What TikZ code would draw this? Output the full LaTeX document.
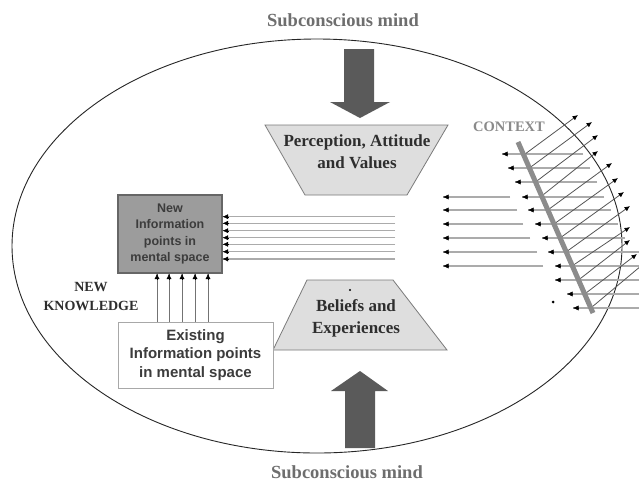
\documentclass[tikz,border=0pt]{standalone}
\usepackage{fontspec}
\setmainfont{Liberation Serif}
\newfontfamily\boxfont{Liberation Sans}
\usetikzlibrary{arrows.meta,calc}
\definecolor{arrowgray}{HTML}{5A5A5A}
\definecolor{trapfill}{HTML}{DEDEDE}
\definecolor{trapdraw}{HTML}{7A7A7A}
\definecolor{newfill}{HTML}{9C9C9C}
\definecolor{newdraw}{HTML}{666666}
\definecolor{exdraw}{HTML}{A8A8A8}
\definecolor{linegray}{HTML}{ABABAB}
\definecolor{diaggray}{HTML}{555555}
\definecolor{bargray}{HTML}{8C8C8C}
\definecolor{subtext}{HTML}{6E6E6E}
\definecolor{ctxtext}{HTML}{8A8A8A}
\definecolor{darktext}{HTML}{2E2E2E}
\definecolor{boxtext}{HTML}{3C3C3C}
\begin{document}
\begin{tikzpicture}[x=1pt,y=-1pt,
  tipblk/.style={-{Latex[length=5.5pt,width=5pt]},black},
  hline/.style={draw=linegray,line width=1.3pt},
  dline/.style={draw=diaggray,line width=0.8pt,-{Latex[length=5.5pt,width=5pt,black]}},
  blockarrow/.style={fill=arrowgray},
  trap/.style={draw=trapdraw,fill=trapfill,line width=0.8pt},
  serifbold/.style={font=\fontsize{17}{22}\selectfont\bfseries,text=darktext,align=center,inner sep=0pt},
  sublabel/.style={font=\fontsize{18.5}{22}\selectfont\bfseries,text=subtext,inner sep=0pt},
  newbox/.style={draw=newdraw,fill=newfill,line width=1.2pt,minimum width=104pt,minimum height=78pt,inner sep=0pt,align=center,
    font=\boxfont\fontsize{12.5}{16.3}\selectfont\bfseries,text=boxtext},
  exbox/.style={draw=exdraw,fill=white,line width=1pt,minimum width=155pt,minimum height=66pt,inner sep=0pt,align=center,
    font=\boxfont\fontsize{15}{18.3}\selectfont\bfseries,text=boxtext}
]
\useasboundingbox (0,0) rectangle (639,483);
\clip (0,0) rectangle (639,483);
\fill[white] (0,0) rectangle (639,483);

% outer ellipse
\draw[line width=0.9pt,black!85] (317,246) ellipse [x radius=305pt, y radius=207pt];

% labels
\node[sublabel] (subtop) at (343,20) {Subconscious mind};
\node[sublabel] (subbot) at (347,472) {Subconscious mind};

% block arrows
\fill[blockarrow] (344,49) -- (374,49) -- (374,102) -- (390,102) -- (360,118) -- (330,102) -- (344,102) -- cycle;
\fill[blockarrow] (345,448) -- (375,448) -- (375,391) -- (388,391) -- (360,371) -- (331,391) -- (345,391) -- cycle;

% trapezoids
\draw[trap] (265,125) -- (448,125) -- (407,195) -- (305,195) -- cycle;
\node[serifbold] (perc) at (357,152) {Perception, Attitude\\and Values};
\draw[trap] (307,280) -- (393,280) -- (447,350) -- (273,350) -- cycle;
\node[serifbold] (beliefs) at (356,318) {Beliefs and\\Experiences};
\fill[black] (350,290) circle (1.1pt);

% boxes
\node[exbox] (exist) at (195.5,355) {Existing\\Information points\\in mental space};
\node[newbox] (new) at (170,234) {New\\Information\\points in\\mental space};

% vertical arrows: existing -> new
\foreach \xx in {157,169,182,195,208}{
  \draw[draw=black!55,line width=1pt] (exist.north -| \xx,0) -- (new.south -| \xx,0);
  \draw[tipblk] ($(new.south -| \xx,0)+(0,6)$) -- (new.south -| \xx,0);
}

% horizontal lines into new box
\foreach \yy in {216.7,223.3,230.7,237.7,244.3,251.7,259}{
  \coordinate (hs) at (395,\yy);
  \draw[hline] (hs) -- (new.east |- hs);
  \draw[tipblk] ($(new.east |- hs)+(5,0)$) -- (new.east |- hs);
}

\node[font=\fontsize{14}{19}\selectfont\bfseries,text=darktext,align=center,inner sep=0pt] (nk) at (91,297) {NEW\\KNOWLEDGE};

% left-pointing arrows in the middle
\foreach \yy/\xe in {197/510,210/517,224/523,238/530,252/537,266/543}{
  \coordinate (ms) at (\xe,\yy);
  \coordinate (me) at (443,\yy);
  \draw[hline] (ms) -- (me);
  \draw[tipblk] ($(me)+(5,0)$) -- (me);
}

% near-bar horizontal arrows
\foreach \yy/\xh/\xe in {154/502/583,168/508/590,182/515/597,197/522/604,210/528/611,224/535/618,238/542/625,252/548/645,266/555/645,280/555/645,294/567/645,308/573/645}{
  \coordinate (ns) at (\xe,\yy);
  \coordinate (ne) at (\xh,\yy);
  \draw[hline] (ns) -- (ne);
  \draw[tipblk] ($(ne)+(5,0)$) -- (ne);
}
\fill[black] (553,302) circle (1.5pt);

% diagonal arrows
\foreach \sx/\sy/\ex/\ey in {523.7/155/578/115,529.4/168/592/122,535.5/182/598/135,541.7/196/598/151,547.8/210/612/163,554/224/618/178,560/238/624/192,566/252/630/206,572/266/630/227,578.5/280/630/240,584.7/294/637/254,590.8/308/660/250}{
  \coordinate (ds) at (\sx,\sy);
  \coordinate (de) at (\ex,\ey);
  \draw[dline] (ds) -- (de);
}

% context bar
\coordinate (b1) at (518,142);
\coordinate (b2) at (593,313);
\draw[bargray,line width=5pt] (b1) -- (b2);
\node[font=\fontsize{14.5}{16}\selectfont\bfseries,text=ctxtext,inner sep=0pt] (ctx) at (509,127) {CONTEXT};

\end{tikzpicture}
\end{document}
